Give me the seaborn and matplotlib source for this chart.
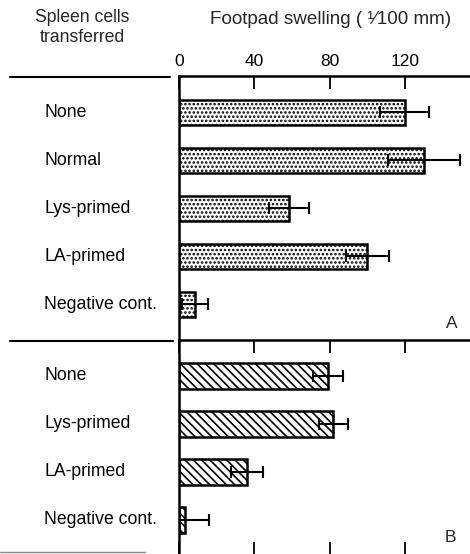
import matplotlib
matplotlib.use("Agg")
import matplotlib.pyplot as plt
from matplotlib.lines import Line2D
from matplotlib.transforms import blended_transform_factory
import seaborn as sns
import pandas as pd

# ---- data ----
cats_A = ["None", "Normal", "Lys-primed", "LA-primed", "Negative cont."]
vals_A = [120, 130, 58.5, 100, 8.5]
errs_A = [13, 19, 10.5, 11.5, 7]

cats_B = ["None", "Lys-primed", "LA-primed", "Negative cont."]
vals_B = [79, 82, 36, 3]
errs_B = [8, 7.5, 8.5, 13]

xticks = [0, 40, 80, 120]

sns.set_style("ticks")
plt.rcParams["font.family"] = ["Liberation Sans", "DejaVu Sans"]
plt.rcParams["hatch.linewidth"] = 1.2

W, H = 470, 554
fig = plt.figure(figsize=(W / 100, H / 100), dpi=100)


def fx(x):
    return x / W


def fy(y):
    return 1 - y / H


ax_left = 179
axA = fig.add_axes([fx(ax_left), fy(340), 1 - fx(ax_left), (340 - 76) / H])
axB = fig.add_axes([fx(ax_left), 0, 1 - fx(ax_left), (554 - 340) / H])

dfA = pd.DataFrame({"cat": cats_A, "val": vals_A})
dfB = pd.DataFrame({"cat": cats_B, "val": vals_B})

for ax, df, errs, hatch, ylim in [
    (axA, dfA, errs_A, "....", (4.74, -0.76)),
    (axB, dfB, errs_B, "\\\\\\\\", (3.71, -0.74)),
]:
    sns.barplot(data=df, x="val", y="cat", orient="h", ax=ax, color="white",
                edgecolor="black", linewidth=1.8, width=0.54, errorbar=None,
                saturation=1)
    for p in ax.patches:
        p.set_hatch(hatch)
        p.set_facecolor("white")
        p.set_edgecolor("black")
    ax.errorbar(df["val"], range(len(df)), xerr=errs, fmt="none",
                ecolor="black", elinewidth=1.5, capsize=4.5, capthick=1.5,
                zorder=5)
    ax.set_xlim(0, (W - ax_left) / 1.883)
    ax.set_ylim(*ylim)
    ax.set_xlabel("")
    ax.set_ylabel("")
    ax.set_xticks(xticks)
    ax.tick_params(axis="y", left=False, labelleft=False)
    for s in ["right", "bottom"]:
        ax.spines[s].set_visible(False)
    for s in ["left", "top"]:
        ax.spines[s].set_linewidth(1.8)
        ax.spines[s].set_color("black")
    trans = blended_transform_factory(fig.transFigure, ax.transData)
    for i, c in enumerate(df["cat"]):
        ax.text(fx(44), i, c, transform=trans, ha="left", va="center",
                fontsize=12.7, color="black")

axA.tick_params(axis="x", top=True, bottom=False, labeltop=True,
                labelbottom=False, direction="in", length=9, width=1.3,
                pad=5, labelsize=12.5, colors="black")
axB.tick_params(axis="x", top=True, bottom=True, labeltop=False,
                labelbottom=False, direction="in", length=9, width=1.3,
                colors="black")

# left column rules
fig.add_artist(Line2D([fx(10), fx(170)], [fy(76.5), fy(76.5)], color="black", lw=1.5))
fig.add_artist(Line2D([fx(10), fx(173)], [fy(340.5), fy(340.5)], color="black", lw=1.5))
fig.add_artist(Line2D([fx(0), fx(145)], [fy(552), fy(552)], color="#888888", lw=1))

# header texts
fig.text(fx(82), fy(17), "Spleen cells", ha="center", va="center", fontsize=12.7)
fig.text(fx(82), fy(37), "transferred", ha="center", va="center", fontsize=12.7)
fig.text(fx(331), fy(20), "Footpad swelling ( \u00b9\u2044100 mm)", ha="center",
         va="center", fontsize=13.6)

# panel letters
fig.text(fx(452), fy(323), "A", ha="center", va="center", fontsize=12.5)
fig.text(fx(450), fy(538), "B", ha="center", va="center", fontsize=12.5)

fig.savefig("out.png", dpi=100)
